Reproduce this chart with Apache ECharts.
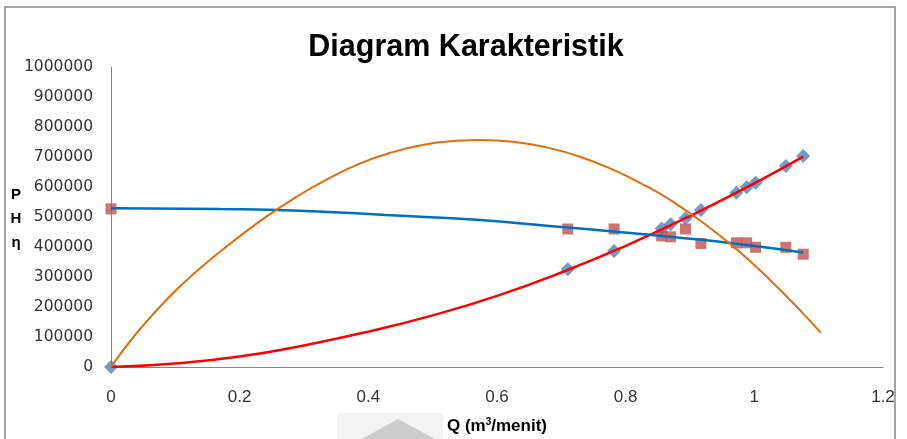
<!DOCTYPE html>
<html>
<head>
<meta charset="utf-8">
<script src="https://cdn.jsdelivr.net/npm/echarts@6/dist/echarts.min.js"></script>
<style>
  html, body { margin: 0; padding: 0; background: #ffffff; }
  #chart { width: 907px; height: 439px; }
</style>
</head>
<body>
<div id="chart"></div>
<script>
// Measured flow rates Q (m³/menit)
const flowQ = [0, 0.71, 0.782, 0.856, 0.87, 0.893, 0.917, 0.972, 0.988, 1.002, 1.049, 1.076];
// Power readings P at each flow rate
const powerP = [0, 326000, 387000, 462000, 476000, 496000, 523000, 581000, 599000, 614000, 670000, 703000];
// Head readings H at each flow rate
const headH = [527000, 460000, 460000, 437000, 434000, 460000, 412000, 414000, 414000, 399000, 399000, 376000];

// Trend curve for P
const trendPQ = [0, 0.1, 0.2, 0.3, 0.4, 0.5, 0.6, 0.7, 0.8, 0.9, 1.0, 1.076];
const trendPV = [0, 12000, 35000, 72000, 118000, 172000, 237000, 315000, 404000, 503000, 612000, 701000];
// Trend curve for H
const trendHQ = [0, 0.17, 0.294, 0.434, 0.574, 0.677, 0.781, 0.884, 0.972, 1.076];
const trendHV = [529000, 526500, 521000, 506000, 490000, 471000, 452000, 431000, 411000, 382000];
// Efficiency curve η
const trendEQ = [0, 0.035, 0.087, 0.138, 0.19, 0.242, 0.294, 0.33, 0.382, 0.434, 0.486, 0.537, 0.574, 0.625, 0.677, 0.729, 0.781, 0.833, 0.869, 0.921, 0.972, 1.024, 1.076, 1.1035];
const trendEV = [0, 100000, 226000, 328000, 419000, 502000, 575000, 619000, 674000, 714000, 741000, 754000, 757000, 751000, 732000, 701000, 657000, 602000, 557000, 480000, 393000, 291000, 178000, 114000];

// Axis ticks
const xTicks = [0, 0.2, 0.4, 0.6, 0.8, 1, 1.2];
const yTicks = [0, 100000, 200000, 300000, 400000, 500000, 600000, 700000, 800000, 900000, 1000000];

const pairs = (xs, ys) => xs.map((x, i) => [x, ys[i]]);

const chart = echarts.init(document.getElementById('chart'), null, { renderer: 'canvas' });

const axisGray = '#868686';
const labelColor = '#333333';

chart.setOption({
  backgroundColor: '#ffffff',
  animation: false,
  title: {
    text: 'Diagram Karakteristik',
    left: 461,
    top: 27,
    textAlign: 'center',
    textStyle: {
      fontFamily: '"Liberation Sans", sans-serif',
      fontWeight: 'bold',
      fontSize: 30.5,
      color: '#000000'
    }
  },
  grid: { left: 111, right: 24, top: 67, bottom: 72, outerBoundsMode: 'none' },
  xAxis: {
    type: 'value',
    min: xTicks[0],
    max: xTicks[xTicks.length - 1],
    interval: xTicks[1] - xTicks[0],
    name: 'Q (m{sup|3}/menit)',
    nameLocation: 'middle',
    nameGap: 50,
    nameTextStyle: {
      fontFamily: '"Liberation Sans", sans-serif',
      fontWeight: 'bold',
      fontSize: 17,
      color: '#000000',
      rich: {
        sup: {
          fontFamily: '"Liberation Sans", sans-serif',
          fontWeight: 'bold',
          fontSize: 10,
          verticalAlign: 'top',
          padding: [0, 0, 8, 0],
          color: '#000000'
        }
      }
    },
    axisLine: { show: true, lineStyle: { color: axisGray, width: 1 } },
    axisTick: { show: false },
    splitLine: { show: false },
    axisLabel: {
      margin: 22,
      fontFamily: '"Liberation Sans", sans-serif',
      fontSize: 17,
      color: labelColor,
      formatter: v => String(+v.toFixed(1))
    }
  },
  yAxis: {
    type: 'value',
    min: yTicks[0],
    max: yTicks[yTicks.length - 1],
    interval: yTicks[1] - yTicks[0],
    axisLine: { show: true, lineStyle: { color: axisGray, width: 1 } },
    axisTick: { show: false },
    splitLine: { show: false },
    axisLabel: {
      margin: 18,
      fontFamily: '"DejaVu Sans", sans-serif',
      fontSize: 15.5,
      color: labelColor,
      formatter: v => String(v)
    }
  },
  graphic: [
    {
      type: 'rect',
      silent: true,
      z: -1,
      shape: { x: 5, y: 7, width: 890, height: 460 },
      style: { fill: 'none', stroke: '#878787', lineWidth: 1.5 }
    },
    {
      // stacked y-axis title: P, H and η share the vertical axis
      type: 'text',
      silent: true,
      x: 16,
      y: 219,
      style: {
        text: 'P\nH\nη',
        fontFamily: '"Liberation Sans", sans-serif',
        fontWeight: 'bold',
        fontSize: 15,
        lineHeight: 24,
        fill: '#000000',
        align: 'center',
        verticalAlign: 'middle'
      }
    },
    {
      type: 'rect',
      silent: true,
      z: -2,
      shape: { x: 337, y: 413, width: 106, height: 30 },
      style: { fill: '#f4f4f4' }
    },
    {
      type: 'polygon',
      silent: true,
      z: -1,
      shape: { points: [[398, 419], [437, 440], [360, 440]] },
      style: { fill: '#cdcdcd' }
    }
  ],
  series: [
    {
      name: 'P',
      type: 'scatter',
      data: pairs(flowQ, powerP),
      symbol: 'diamond',
      symbolSize: 14,
      itemStyle: { color: '#4F81BD' },
      z: 2
    },
    {
      name: 'H',
      type: 'scatter',
      data: pairs(flowQ, headH),
      symbol: 'rect',
      symbolSize: 11,
      itemStyle: { color: '#C0504D' },
      z: 2
    },
    {
      name: 'P trend',
      type: 'line',
      data: pairs(trendPQ, trendPV),
      smooth: 0.5,
      showSymbol: false,
      lineStyle: { color: '#FF0000', width: 2.5 },
      z: 3
    },
    {
      name: 'H trend',
      type: 'line',
      data: pairs(trendHQ, trendHV),
      smooth: 0.5,
      showSymbol: false,
      lineStyle: { color: '#0070C0', width: 2.5 },
      z: 3
    },
    {
      name: 'η',
      type: 'line',
      data: pairs(trendEQ, trendEV),
      smooth: 0.5,
      showSymbol: false,
      lineStyle: { color: '#E46C0A', width: 2 },
      z: 4
    }
  ]
});
</script>
</body>
</html>
